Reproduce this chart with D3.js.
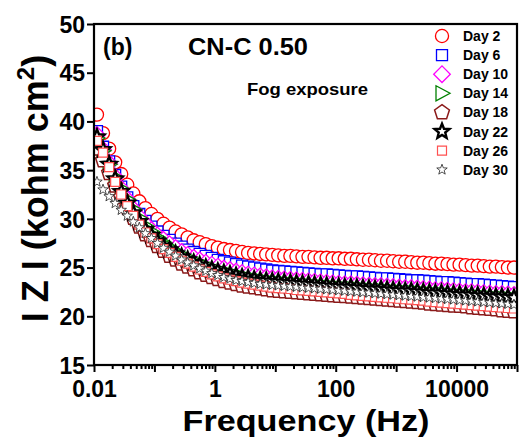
<!DOCTYPE html>
<html>
<head>
<meta charset="utf-8">
<script src="https://cdn.jsdelivr.net/npm/d3@7"></script>
<style>
  body { margin: 0; background: #fff; }
  text { font-family: "Liberation Sans", Arial, Helvetica, sans-serif; font-weight: bold; fill: #000; }
</style>
</head>
<body>
<svg id="chart" width="519" height="445"></svg>
<script>
// frequencies (Hz), ~10 points per decade
var freq = [0.0112, 0.0141, 0.0178, 0.0224, 0.0282, 0.0355, 0.0447, 0.0562, 0.0708, 0.0891,
  0.112, 0.141, 0.178, 0.224, 0.282, 0.355, 0.447, 0.562, 0.708, 0.891,
  1.12, 1.41, 1.78, 2.24, 2.82, 3.55, 4.47, 5.62, 7.08, 8.91,
  11.2, 14.1, 17.8, 22.4, 28.2, 35.5, 44.7, 56.2, 70.8, 89.1,
  112, 141, 178, 224, 282, 355, 447, 562, 708, 891,
  1122, 1413, 1778, 2239, 2818, 3548, 4467, 5623, 7079, 8913,
  11220, 14130, 17780, 22390, 28180, 35480, 44670, 56230, 70790, 89130];

// |Z| in kohm cm2
var day2 = [40.7, 38.8, 37.2, 35.8, 34.6, 33.5, 32.6, 31.8, 31.1, 30.5,
  30.0, 29.5, 29.1, 28.7, 28.4, 28.1, 27.8, 27.6, 27.4, 27.2,
  27.05, 26.9, 26.8, 26.7, 26.6, 26.5, 26.45, 26.4, 26.35, 26.3,
  26.25, 26.2, 26.2, 26.15, 26.1, 26.1, 26.05, 26.0, 26.0, 25.95,
  25.95, 25.9, 25.9, 25.85, 25.8, 25.8, 25.75, 25.7, 25.7, 25.65,
  25.6, 25.6, 25.55, 25.5, 25.5, 25.45, 25.4, 25.4, 25.35, 25.3,
  25.3, 25.25, 25.2, 25.2, 25.15, 25.1, 25.1, 25.05, 25.0, 25.0];
var day6 = [39.0, 37.4, 35.9, 34.5, 33.3, 32.2, 31.3, 30.5, 29.8, 29.2,
  28.7, 28.25, 27.85, 27.45, 27.15, 26.85, 26.6, 26.4, 26.2, 26.0,
  25.8, 25.65, 25.5, 25.35, 25.2, 25.1, 25.0, 24.9, 24.8, 24.7,
  24.65, 24.6, 24.55, 24.5, 24.45, 24.4, 24.35, 24.3, 24.3, 24.25,
  24.2, 24.15, 24.1, 24.1, 24.05, 24.0, 23.95, 23.9, 23.9, 23.85,
  23.8, 23.75, 23.7, 23.7, 23.65, 23.6, 23.55, 23.5, 23.5, 23.45,
  23.4, 23.35, 23.3, 23.3, 23.25, 23.2, 23.15, 23.1, 23.05, 23.0];
var day10 = [38.6, 37.1, 35.7, 34.3, 33.1, 32.0, 31.0, 30.2, 29.5, 28.85,
  28.3, 27.85, 27.4, 27.0, 26.6, 26.3, 26.0, 25.75, 25.5, 25.3,
  25.1, 24.9, 24.75, 24.6, 24.45, 24.3, 24.2, 24.1, 24.0, 23.9,
  23.85, 23.8, 23.75, 23.7, 23.65, 23.6, 23.55, 23.5, 23.45, 23.4,
  23.35, 23.3, 23.3, 23.25, 23.2, 23.15, 23.1, 23.1, 23.05, 23.0,
  22.95, 22.9, 22.9, 22.85, 22.8, 22.75, 22.7, 22.7, 22.65, 22.6,
  22.55, 22.5, 22.5, 22.45, 22.4, 22.35, 22.3, 22.3, 22.25, 22.2];
var day14 = [38.3, 37.0, 35.6, 34.3, 33.1, 32.0, 31.0, 30.1, 29.3, 28.7,
  28.1, 27.6, 27.1, 26.7, 26.3, 26.0, 25.7, 25.4, 25.15, 24.9,
  24.7, 24.5, 24.35, 24.2, 24.05, 23.9, 23.8, 23.7, 23.6, 23.5,
  23.45, 23.4, 23.35, 23.3, 23.25, 23.2, 23.15, 23.1, 23.05, 23.0,
  22.95, 22.9, 22.9, 22.85, 22.8, 22.75, 22.7, 22.7, 22.65, 22.6,
  22.55, 22.5, 22.5, 22.45, 22.4, 22.35, 22.3, 22.3, 22.25, 22.2,
  22.15, 22.1, 22.1, 22.05, 22.0, 21.95, 21.9, 21.9, 21.85, 21.8];
var day18 = [37.2, 36.0, 34.7, 33.4, 32.2, 31.1, 30.1, 29.2, 28.4, 27.8,
  27.2, 26.7, 26.2, 25.8, 25.4, 25.1, 24.8, 24.5, 24.25, 24.0,
  23.8, 23.6, 23.45, 23.3, 23.15, 23.05, 22.95, 22.85, 22.75, 22.65,
  22.6, 22.55, 22.5, 22.45, 22.4, 22.35, 22.3, 22.25, 22.2, 22.15,
  22.1, 22.05, 22.0, 21.95, 21.9, 21.85, 21.8, 21.75, 21.7, 21.65,
  21.6, 21.55, 21.5, 21.45, 21.4, 21.3, 21.25, 21.2, 21.15, 21.1,
  21.05, 21.0, 20.9, 20.85, 20.8, 20.75, 20.7, 20.6, 20.55, 20.5];
var day22 = [38.4, 37.1, 35.6, 34.1, 32.8, 31.6, 30.6, 29.7, 28.9, 28.3,
  27.7, 27.2, 26.8, 26.4, 26.1, 25.8, 25.5, 25.25, 25.0, 24.8,
  24.6, 24.45, 24.3, 24.15, 24.0, 23.9, 23.8, 23.7, 23.65, 23.6,
  23.55, 23.5, 23.45, 23.4, 23.35, 23.3, 23.25, 23.2, 23.15, 23.1,
  23.05, 23.0, 23.0, 22.95, 22.9, 22.85, 22.8, 22.8, 22.75, 22.7,
  22.65, 22.6, 22.6, 22.55, 22.5, 22.45, 22.4, 22.4, 22.35, 22.3,
  22.25, 22.2, 22.2, 22.15, 22.1, 22.05, 22.0, 22.0, 21.95, 21.9];
var day26 = [38.0, 36.8, 35.3, 33.8, 32.5, 31.3, 30.3, 29.4, 28.6, 28.0,
  27.4, 26.9, 26.5, 26.1, 25.7, 25.4, 25.1, 24.8, 24.55, 24.3,
  24.1, 23.9, 23.75, 23.6, 23.45, 23.35, 23.25, 23.15, 23.05, 22.95,
  22.9, 22.85, 22.8, 22.7, 22.65, 22.6, 22.55, 22.5, 22.45, 22.4,
  22.35, 22.3, 22.2, 22.15, 22.1, 22.05, 22.0, 21.95, 21.9, 21.85,
  21.8, 21.75, 21.7, 21.65, 21.6, 21.5, 21.45, 21.4, 21.35, 21.3,
  21.25, 21.2, 21.15, 21.1, 21.05, 21.0, 20.95, 20.9, 20.85, 20.8];
var day30 = [33.8, 33.0, 32.3, 31.6, 30.9, 30.3, 29.7, 29.1, 28.5, 28.0,
  27.5, 27.0, 26.6, 26.2, 25.8, 25.5, 25.2, 24.9, 24.65, 24.4,
  24.2, 24.0, 23.85, 23.7, 23.6, 23.5, 23.4, 23.3, 23.25, 23.2,
  23.15, 23.1, 23.05, 23.0, 22.95, 22.9, 22.85, 22.8, 22.75, 22.7,
  22.65, 22.6, 22.55, 22.5, 22.45, 22.4, 22.35, 22.3, 22.25, 22.2,
  22.15, 22.1, 22.05, 22.0, 21.95, 21.9, 21.85, 21.8, 21.75, 21.7,
  21.65, 21.6, 21.55, 21.5, 21.45, 21.4, 21.35, 21.3, 21.25, 21.2];

var seriesNames = ['Day 2', 'Day 6', 'Day 10', 'Day 14', 'Day 18', 'Day 22', 'Day 26', 'Day 30'];
var seriesValues = [day2, day6, day10, day14, day18, day22, day26, day30];

var xMajorTicks = [0.01, 0.1, 1, 10, 100, 1000, 10000, 100000];
var xTickLabels = ['0.01', '1', '100', '10000'];
var yTicks = [15, 20, 25, 30, 35, 40, 45, 50];

// ---- marker styles ----
function polyPath(n, r, rot) {
  var pts = [];
  for (var i = 0; i < n; i++) {
    var a = rot + 2 * Math.PI * i / n;
    pts.push([r * Math.cos(a), r * Math.sin(a)]);
  }
  return 'M' + pts.join('L') + 'Z';
}
function starPath(ro, ri) {
  var pts = [];
  for (var i = 0; i < 10; i++) {
    var r = i % 2 ? ri : ro, a = -Math.PI / 2 + Math.PI * i / 5;
    pts.push([r * Math.cos(a), r * Math.sin(a)]);
  }
  return 'M' + pts.join('L') + 'Z';
}

var markers = [
  { path: d3.symbol().type(d3.symbolCircle).size(135)(), color: '#ff0000', sw: 1.3 },
  { path: 'M-5.5,-5.5h11v11h-11Z', color: '#0000ff', sw: 1.3 },
  { path: polyPath(4, 8.3, -Math.PI / 2), color: '#ff00ff', sw: 1.3 },
  { path: 'M-6,-7.5L8,0L-6,7.5Z', color: '#008000', sw: 1.3 },
  { path: polyPath(5, 7.8, -Math.PI / 2), color: '#8b1a1a', sw: 1.5 },
  { path: starPath(7.8, 3.4), color: '#000000', sw: 2.4 },
  { path: 'M-4.5,-4.5h9v9h-9Z', color: '#ff5050', sw: 1.2 },
  { path: starPath(5.5, 2.3), color: '#222222', sw: 0.8 }
];

// ---- layout ----
var margin = {top: 24, right: 2, bottom: 80, left: 94},
    width = 519 - margin.left - margin.right,
    height = 445 - margin.top - margin.bottom;

var svg = d3.select('#chart');
var g = svg.append('g')
    .attr('transform', 'translate(' + margin.left + ',' + margin.top + ')');

var x = d3.scaleLog().domain([0.01, 100000]).range([0, width]);
var y = d3.scaleLinear().domain([15, 50]).range([height, 0]);

g.append('clipPath').attr('id', 'plotclip')
  .append('rect').attr('width', width).attr('height', height);

// ---- series ----
var plot = g.append('g').attr('clip-path', 'url(#plotclip)');
seriesValues.forEach(function (vals, si) {
  var m = markers[si];
  plot.append('g')
      .attr('class', 'series')
    .selectAll('path')
    .data(vals)
    .enter().append('path')
      .attr('d', m.path)
      .attr('transform', function (d, i) { return 'translate(' + x(freq[i]) + ',' + y(d) + ')'; })
      .attr('fill', '#fff')
      .attr('stroke', m.color)
      .attr('stroke-width', m.sw)
      .attr('stroke-linejoin', 'miter');
});

// ---- axes ----
var minorTicks = x.ticks().filter(function (t) { return xMajorTicks.indexOf(t) < 0; });

var xMinor = g.append('g')
    .attr('transform', 'translate(0,' + height + ')')
    .call(d3.axisBottom(x).tickValues(minorTicks).tickSize(4).tickFormat(''));
var xAxis = g.append('g')
    .attr('transform', 'translate(0,' + height + ')')
    .call(d3.axisBottom(x).tickValues(xMajorTicks).tickSize(7)
      .tickFormat(function (d) {
        var s = d >= 1 ? String(d) : d3.format('.2f')(d);
        return xTickLabels.indexOf(s) >= 0 ? s : '';
      }));
var yAxis = g.append('g')
    .call(d3.axisLeft(y).tickValues(yTicks).tickSize(7).tickFormat(d3.format('d')));

[xMinor, xAxis, yAxis].forEach(function (a) {
  a.select('.domain').remove();
  a.selectAll('.tick line').attr('stroke', '#000').attr('stroke-width', 2);
});
xAxis.selectAll('.tick text')
    .attr('y', 16).attr('dy', '0.71em')
    .style('font-size', '23px');
yAxis.selectAll('.tick text')
    .attr('x', -9).attr('dy', '0.36em')
    .style('font-size', '23px');

// frame
g.append('rect')
    .attr('width', width).attr('height', height)
    .attr('fill', 'none').attr('stroke', '#000').attr('stroke-width', 2.2);

// ---- labels ----
svg.append('text')
    .attr('x', 306).attr('y', 431)
    .attr('text-anchor', 'middle')
    .attr('textLength', 247).attr('lengthAdjust', 'spacingAndGlyphs')
    .style('font-size', '29px')
    .text('Frequency (Hz)');

var ylab = svg.append('text')
    .attr('transform', 'translate(48,' + (margin.top + height / 2 - 6) + ') rotate(-90)')
    .attr('text-anchor', 'middle')
    .style('font-size', '36px');
ylab.append('tspan').text('I Z I (kohm cm');
ylab.append('tspan').attr('dy', -14).style('font-size', '24px').text('2');
ylab.append('tspan').attr('dy', 14).text(')');

svg.append('text').attr('x', 103).attr('y', 55).style('font-size', '23px').text('(b)');
svg.append('text').attr('x', 188).attr('y', 55)
    .attr('textLength', 120).attr('lengthAdjust', 'spacingAndGlyphs')
    .style('font-size', '23px').text('CN-C 0.50');
svg.append('text').attr('x', 247).attr('y', 95)
    .attr('textLength', 121).attr('lengthAdjust', 'spacingAndGlyphs')
    .style('font-size', '17px').text('Fog exposure');

// ---- legend ----
var legend = svg.append('g').attr('class', 'legend')
  .selectAll('g')
  .data(seriesNames)
  .enter().append('g')
    .attr('transform', function (d, i) { return 'translate(442,' + (36 + i * 19.1) + ')'; });

legend.append('path')
    .attr('d', function (d, i) { return markers[i].path; })
    .attr('fill', '#fff')
    .attr('stroke', function (d, i) { return markers[i].color; })
    .attr('stroke-width', function (d, i) { return markers[i].sw; });

legend.append('text')
    .attr('x', 21).attr('dy', '0.36em')
    .style('font-size', '14px')
    .text(function (d) { return d; });
</script>
</body>
</html>
